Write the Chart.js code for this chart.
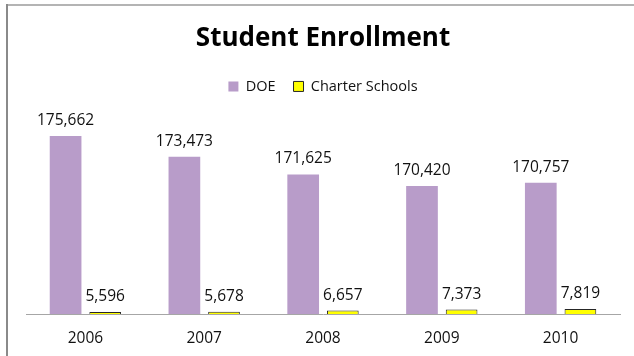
<!DOCTYPE html>
<html>
<head>
<meta charset="utf-8">
<script src="https://cdn.jsdelivr.net/npm/chart.js@4.4.1/dist/chart.umd.min.js"></script>
<style>
  html, body { margin: 0; padding: 0; background: #fff; }
  #wrap { position: relative; width: 634px; height: 356px; }
</style>
</head>
<body>
<div id="wrap"><canvas id="enrollChart" width="634" height="356"></canvas></div>
<script>
/* global Chart */
const years = ["2006", "2007", "2008", "2009", "2010"];
const doeStudents = [175662, 173473, 171625, 170420, 170757];
const charterStudents = [5596, 5678, 6657, 7373, 7819];

const purple = "#b89cc9";
const yellow = "#ffff00";
const fontFamily = "'Open Sans'";

// outer frame of the chart box (left and top edges only)
const framePlugin = {
  id: "frame",
  beforeDraw(chart) {
    const ctx = chart.ctx;
    ctx.save();
    ctx.fillStyle = "#fff";
    ctx.fillRect(0, 0, chart.width, chart.height);
    ctx.fillStyle = "#b4b4b4";
    ctx.fillRect(7, 4, chart.width - 7, 2);
    ctx.fillStyle = "#8a8a8a";
    ctx.fillRect(6, 4, 2, chart.height - 4);
    ctx.restore();
  },
};

// value above every bar
const valueLabels = {
  id: "valueLabels",
  afterDatasetsDraw(chart) {
    const ctx = chart.ctx;
    ctx.save();
    ctx.font = "15.5px " + fontFamily;
    ctx.fillStyle = "#111";
    ctx.textAlign = "center";
    ctx.textBaseline = "alphabetic";
    chart.data.datasets.forEach((ds, i) => {
      const meta = chart.getDatasetMeta(i);
      meta.data.forEach((bar, j) => {
        ctx.fillText(ds.data[j].toLocaleString("en-US"), bar.x, bar.y - 11);
      });
    });
    ctx.restore();
  },
};

const ctx = document.getElementById("enrollChart").getContext("2d");
new Chart(ctx, {
  type: "bar",
  data: {
    labels: years,
    datasets: [
      {
        label: "DOE",
        data: doeStudents,
        backgroundColor: purple,
        borderWidth: 0,
        yAxisID: "y",
      },
      {
        label: "Charter Schools",
        data: charterStudents,
        backgroundColor: yellow,
        borderColor: "#262626",
        borderWidth: 1,
        yAxisID: "y2",
      },
    ],
  },
  options: {
    responsive: false,
    animation: false,
    categoryPercentage: 0.667,
    barPercentage: 0.8,
    layout: { padding: { left: 26, right: 14, top: 23, bottom: -6.6 } },
    plugins: {
      title: {
        display: true,
        text: "Student Enrollment",
        color: "#000",
        font: { family: fontFamily, size: 26, weight: "bold" },
        padding: { top: 0, bottom: 7 },
      },
      legend: {
        display: true,
        labels: {
          color: "#111",
          font: { family: fontFamily, size: 14.5 },
          boxWidth: 10,
          boxHeight: 10,
          padding: 18,
        },
      },
      tooltip: { enabled: false },
    },
    scales: {
      x: {
        grid: { display: false, drawTicks: false },
        border: { display: true, color: "#a6a6a6", width: 1 },
        ticks: {
          color: "#111",
          font: { family: fontFamily, size: 15.5 },
          padding: 15,
        },
      },
      // two hidden value axes: DOE counts and charter counts
      y: {
        display: false,
        min: 156966,
        max: 179049,
      },
      y2: {
        display: false,
        position: "right",
        min: 4000,
        max: 165769,
      },
    },
  },
  plugins: [framePlugin, valueLabels],
});
</script>
</body>
</html>
